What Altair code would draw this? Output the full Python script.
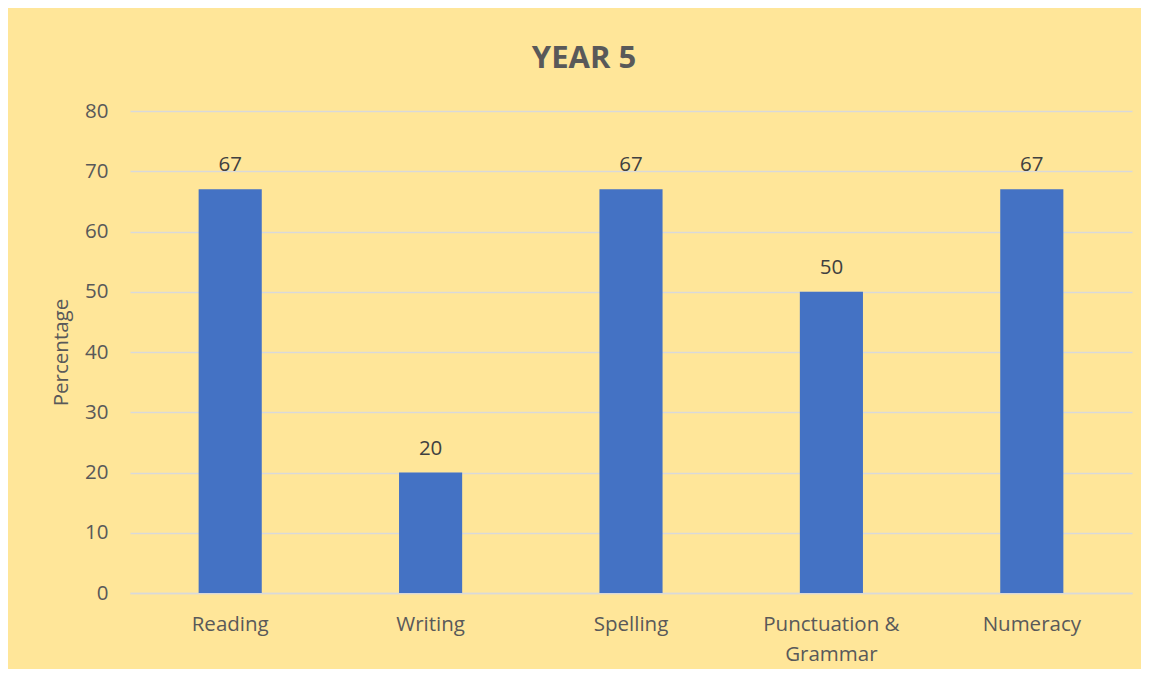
import altair as alt
import pandas as pd

subjects = ["Reading", "Writing", "Spelling", "Punctuation & Grammar", "Numeracy"]
values = [67, 20, 67, 50, 67]

df = pd.DataFrame({"subject": subjects, "value": values})

FONT = "Open Sans"
GREY = "#595959"

x = alt.X(
    "subject:N",
    sort=subjects,
    title=None,
    scale=alt.Scale(paddingInner=0.685, paddingOuter=0.3425),
    axis=alt.Axis(
        labelAngle=0,
        labelFont=FONT,
        labelFontSize=20.5,
        labelColor=GREY,
        labelPadding=21,
        labelLineHeight=30,
        ticks=False,
        domain=True,
        domainColor="#D9D9D9",
        domainWidth=1.5,
        labelExpr="datum.label == 'Punctuation & Grammar' ? ['Punctuation &', 'Grammar'] : datum.label",
    ),
)

y = alt.Y(
    "value:Q",
    title="Percentage",
    scale=alt.Scale(domain=[0, 80]),
    axis=alt.Axis(
        values=[0, 10, 20, 30, 40, 50, 60, 70, 80],
        labelFont=FONT,
        labelFontSize=20.5,
        labelColor=GREY,
        labelPadding=22,
        ticks=False,
        domain=False,
        gridColor="#D9D9D9",
        gridWidth=1.5,
        titleFont=FONT,
        titleFontSize=20.5,
        titleFontWeight="normal",
        titleColor=GREY,
        titlePadding=13,
    ),
)

base = alt.Chart(df)

bars = base.mark_bar(color="#4472C4").encode(x=x, y=y)
labels = base.mark_text(
    font=FONT, fontSize=20.5, color="#404040", dy=-14, baseline="bottom"
).encode(x=x, y=y, text="value:Q")

chart = (
    alt.layer(bars, labels)
    .properties(
        width=1002,
        height=482,
        background="#FFE699",
        padding={"left": 122, "top": 103, "right": 9, "bottom": 76},
        autosize=alt.AutoSizeParams(type="none"),
        title=alt.TitleParams(
            "YEAR 5",
            font=FONT,
            fontSize=31,
            fontWeight="bold",
            color=GREY,
            anchor="middle",
            dx=-47,
            offset=26,
        ),
    )
    .configure_view(stroke=None)
)

chart.save("out.html", embed_options={"renderer": "svg", "actions": False})
